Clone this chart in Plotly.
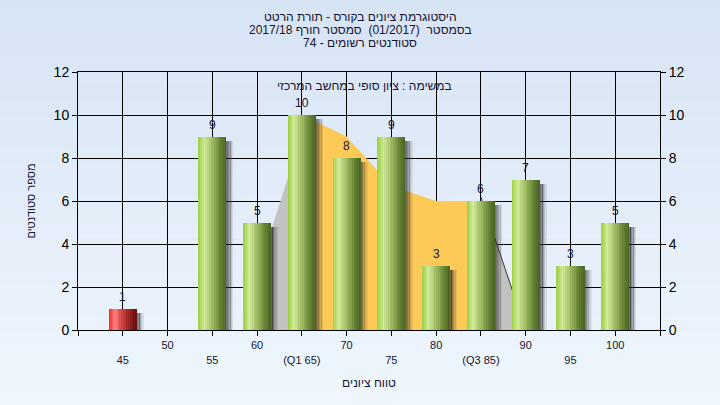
import plotly.graph_objects as go

# ---------------- data ----------------
grade_labels = ["45", "50", "55", "60", "(Q1 65)", "70", "75", "80", "(Q3 85)", "90", "95", "100"]
counts = [1, 0, 9, 5, 10, 8, 9, 3, 6, 7, 3, 5]
bar_kind = ["fail", "pass", "pass", "pass", "pass", "pass", "pass", "pass", "pass", "pass", "pass", "pass"]

# background "distribution" area (quartile band in yellow, tails in light gray)
band_idx = [4, 5, 6, 7, 8]
band_vals = [10, 9, 6.7, 6, 6]
low_tail_idx = [3, 4]
low_tail_vals = [2.6, 9.1]
high_tail_idx = [8, 9]
high_tail_vals = [6.2, 0.0]

title_lines = ["היסטוגרמת ציונים בקורס - תורת הרטט",
               "בסמסטר  (01/2017)  סמסטר חורף 2017/18",
               "סטודנטים רשומים - 74"]
note_text = "במשימה : ציון סופי במחשב המרכזי"
x_title = "טווח ציונים"
y_title = "מספר סטודנטים"

# ---------------- styling helpers ----------------
FONT = "Liberation Sans, Arial, DejaVu Sans, sans-serif"
TXT = "#141432"
x_pos = list(range(len(grade_labels)))
PLOT_TOP, PLOT_BOT = 72, 330

def paper_y(py):
    return (PLOT_BOT - py) / (PLOT_BOT - PLOT_TOP)

def lerp_stops(stops, t):
    for (t0, c0), (t1, c1) in zip(stops[:-1], stops[1:]):
        if t0 <= t <= t1:
            f = (t - t0) / (t1 - t0) if t1 > t0 else 0
            c = [round(a + (b - a) * f) for a, b in zip(c0, c1)]
            return "rgb(%d,%d,%d)" % tuple(c)
    return "rgb(%d,%d,%d)" % tuple(stops[-1][1])

green_stops = [(0.0, (156, 206, 64)), (0.22, (208, 234, 152)), (0.5, (158, 186, 98)),
               (0.78, (102, 132, 52)), (1.0, (72, 98, 34))]
red_stops = [(0.0, (250, 30, 30)), (0.22, (255, 125, 125)), (0.5, (200, 60, 60)),
             (0.78, (140, 30, 30)), (1.0, (100, 16, 16))]

fig = go.Figure()

# distribution areas (main subplot, drawn beneath the bar overlay)
fig.add_trace(go.Scatter(x=low_tail_idx, y=low_tail_vals, mode="lines", fill="tozeroy",
                         fillcolor="#c2c2c2", line=dict(width=0, color="#c2c2c2"),
                         hoverinfo="skip", showlegend=False))
fig.add_trace(go.Scatter(x=high_tail_idx, y=high_tail_vals, mode="lines", fill="tozeroy",
                         fillcolor="#c2c2c2", line=dict(width=1, color="#3c3c3c"),
                         hoverinfo="skip", showlegend=False))
fig.add_trace(go.Scatter(x=band_idx, y=band_vals, mode="lines", fill="tozeroy",
                         fillcolor="#fdca58", line=dict(width=0, color="#fdca58"),
                         hoverinfo="skip", showlegend=False))

# bars on overlay axis: shadow strips then gradient strips
BW = 0.627
shadow_alphas = [0.62, 0.5, 0.36, 0.22, 0.1]
sw_sh = 0.032
for i, a in enumerate(shadow_alphas):
    fig.add_trace(go.Bar(x=x_pos, y=[max(c - 0.2, 0) for c in counts], yaxis="y2",
                         offset=BW / 2 + i * sw_sh - 0.005, width=sw_sh + 0.004,
                         marker=dict(color="rgba(40,40,40,%.2f)" % a, line=dict(width=0)),
                         hoverinfo="skip", showlegend=False))

N = 16
sw = BW / N
for i in range(N):
    t = (i + 0.5) / N
    cols = [lerp_stops(red_stops if k == "fail" else green_stops, t) for k in bar_kind]
    fig.add_trace(go.Bar(x=x_pos, y=counts, yaxis="y2",
                         offset=-BW / 2 + i * sw, width=sw * 1.25 if i < N - 1 else sw,
                         marker=dict(color=cols, line=dict(width=0)),
                         hoverinfo="skip", showlegend=False))

# value labels above bars
for xi, c in zip(x_pos, counts):
    if c > 0:
        fig.add_annotation(x=xi, y=c, xref="x", yref="y2", text=str(c), showarrow=False,
                           yshift=12, font=dict(family=FONT, size=12, color=TXT))

# background gradient stripes on paper
n_str = 27
for i in range(n_str):
    f = i / (n_str - 1)
    c0, c1 = (215, 228, 245), (239, 246, 253)
    col = "rgb(%d,%d,%d)" % tuple(round(a + (b - a) * f) for a, b in zip(c0, c1))
    fig.add_shape(type="rect", xref="paper", yref="paper", layer="below",
                  x0=-0.2, x1=1.2, y0=1.3 - (i + 1) * (1.6 / n_str) - 0.002,
                  y1=1.3 - i * (1.6 / n_str), fillcolor=col, line=dict(width=0))

tickvals = list(range(-1, len(grade_labels) + 1))
ticktext = [""] + [lab if k % 2 == 1 else "<br>" + lab for k, lab in enumerate(grade_labels)] + [""]

fig.update_layout(
    width=720, height=405,
    margin=dict(l=78, r=60, t=PLOT_TOP, b=405 - PLOT_BOT, autoexpand=False),
    paper_bgcolor="#e4edf8",
    plot_bgcolor="#b4b4b4",
    barmode="overlay",
    bargap=0,
    showlegend=False,
    hovermode=False,
    font=dict(family=FONT, color=TXT, size=12),
    xaxis=dict(range=[-1, len(grade_labels)], tickmode="array", tickvals=tickvals, ticktext=ticktext,
               showgrid=True, gridcolor="black", gridwidth=1, zeroline=False,
               showline=True, linecolor="black", linewidth=1, mirror=True, automargin=False,
               ticks="outside", ticklen=5, tickcolor="black",
               tickfont=dict(family=FONT, size=11, color=TXT),
               title=dict(text=x_title, standoff=14, font=dict(family=FONT, size=12, color=TXT))),
    yaxis=dict(range=[0, 12], dtick=2, showgrid=True, gridcolor="black", gridwidth=1,
               zeroline=False, showline=True, linecolor="black", linewidth=1, mirror=True,
               automargin=False, ticks="outside", ticklen=5, tickcolor="black",
               tickfont=dict(family=FONT, size=14, color="black"),
               title=dict(text=y_title, standoff=15, font=dict(family=FONT, size=11, color=TXT))),
    yaxis2=dict(range=[0, 12], dtick=2, overlaying="y", side="right", showgrid=False,
                zeroline=False, automargin=False, ticks="outside", ticklen=5, tickcolor="black",
                tickfont=dict(family=FONT, size=14, color="black")),
)

for line, py in zip(title_lines, [17, 30, 43]):
    fig.add_annotation(text=line, xref="paper", yref="paper", x=0.485, y=paper_y(py),
                       showarrow=False, xanchor="center", yanchor="middle",
                       font=dict(family=FONT, size=12, color=TXT))

fig.add_annotation(text=note_text, xref="paper", yref="paper", x=0.493, y=paper_y(86),
                   showarrow=False, xanchor="center", yanchor="middle",
                   font=dict(family=FONT, size=12, color=TXT))

fig.write_html("out.html", config={"displayModeBar": False, "staticPlot": True},
               post_script="document.body.style.margin='0';document.body.style.overflow='hidden';")
